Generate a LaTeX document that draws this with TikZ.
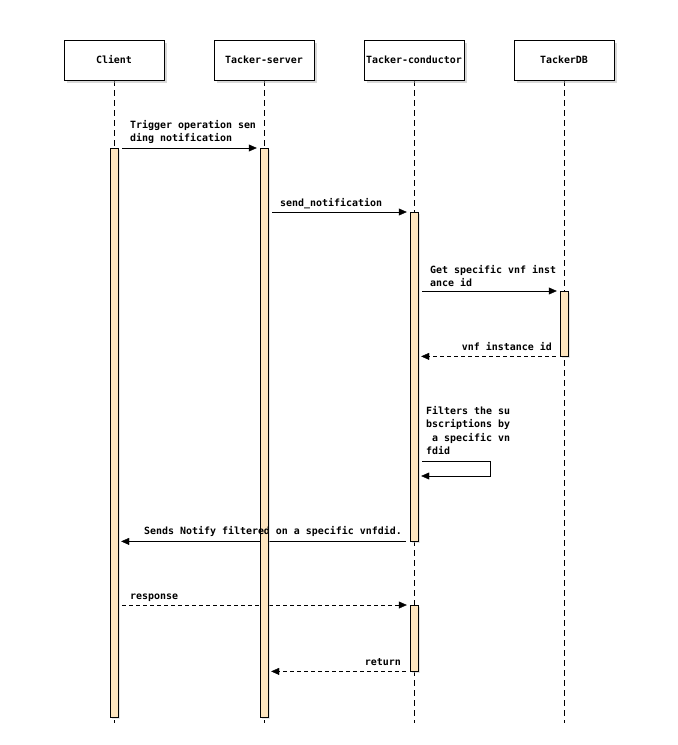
\documentclass[tikz,border=0pt]{standalone}
\usepackage{fontspec}
\setmonofont{DejaVu Sans Mono}
\usetikzlibrary{arrows.meta, positioning, shadows, backgrounds}
\definecolor{barfill}{RGB}{254,229,190}

\begin{document}
\begin{tikzpicture}[x=1pt, y=-1pt, >={Triangle[length=8pt, width=7pt]},
  node distance=150pt, on grid,
  font=\ttfamily\bfseries\fontsize{9.95}{13.5}\selectfont,
  actor/.style={draw, fill=white, minimum width=100pt, minimum height=40pt, inner sep=0pt,
    drop shadow={shadow xshift=3pt, shadow yshift=-3pt, fill=black!30}},
  activ/.style={draw, fill=barfill, minimum width=8pt, inner sep=0pt, anchor=north,
    drop shadow={shadow xshift=2pt, shadow yshift=-2pt, fill=black!20}},
  lifeline/.style={dash pattern=on 6pt off 4pt},
  msg/.style={->, shorten <=4pt, shorten >=3pt},
  reply/.style={msg, dash pattern=on 4pt off 3pt},
  lbl/.style={inner sep=0pt, align=left}]

\useasboundingbox (0,0) rectangle (678,745);

% 参加者
\node[actor] (client) at (114,60) {Client};
\node[actor] (server) [right=of client] {Tacker-server};
\node[actor] (cond) [right=of server] {Tacker-conductor};
\node[actor] (db) [right=of cond] {TackerDB};

% 活性化バー
\node[activ, minimum height=569pt] (act1) at (client |- 0,148) {};
\node[activ, minimum height=569pt] (act2) at (server |- 0,148) {};
\node[activ, minimum height=329pt] (act3) at (cond |- 0,212) {};
\node[activ, minimum height=65pt] (act4) at (db |- 0,291) {};
\node[activ, minimum height=66pt] (act5) at (cond |- 0,605) {};

% 生存線とメッセージ
\begin{scope}[on background layer]
\foreach \p in {client, server, cond, db}
  \draw[lifeline] (\p.south) -- (\p |- 0,723);
\draw[msg] (act1.north east) -- (act2.north west);
\draw[msg] (act2.east |- act3.north) -- (act3.north west);
\draw[msg] (act3.east |- act4.north) -- (act4.north west);
\draw[reply] (act4.south west) -- (act3.east |- act4.south);
\coordinate (loop) at (act3.east |- 0,461);
\draw[msg] (loop) -- ++(72,0) -- ++(0,15) -- (loop |- 0,476);
\draw[msg] (act3.south west) -- (act1.east |- act3.south);
\draw[reply] (act1.east |- act5.north) -- (act5.north west);
\draw[reply] (act5.south west) -- (act2.east |- act5.south);
\end{scope}

% ラベル
\node[lbl, anchor=south west] (l1) at (130,144) {Trigger operation sen\\ding notification};
\node[lbl, anchor=base west] (l2) at (280,206) {send\_notification};
\node[lbl, anchor=south west] (l3) at (430,287) {Get specific vnf inst\\ance id};
\node[lbl, anchor=base east] (l4) at (552,350) {vnf instance id};
\node[lbl, anchor=south west] (l5) at (426,455) {Filters the su\\bscriptions by\\~a specific vn\\fdid};
\node[lbl, anchor=base west] (l6) at (144,534) {Sends Notify filtered on a specific vnfdid.};
\node[lbl, anchor=base west] (l7) at (130,599) {response};
\node[lbl, anchor=base east] (l8) at (401,665) {return};

\end{tikzpicture}
\end{document}
